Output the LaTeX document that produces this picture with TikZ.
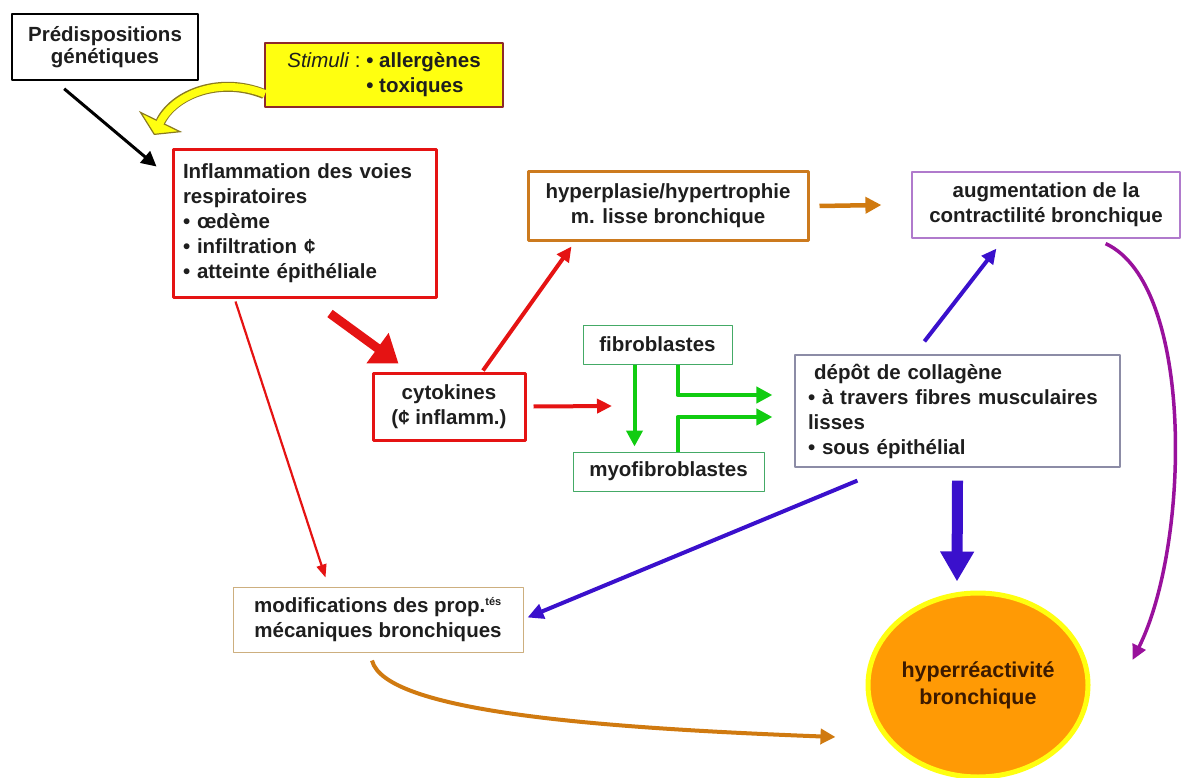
\documentclass[tikz,border=0pt]{standalone}
\usepackage{fontspec}
\setmainfont{Liberation Sans}
\usetikzlibrary{arrows.meta,shapes.geometric}
\definecolor{txt}{HTML}{1E1E1E}
\definecolor{rouge}{HTML}{E51313}
\definecolor{orangebox}{HTML}{CC7A1E}
\definecolor{orangearr}{HTML}{D07A10}
\definecolor{violetbox}{HTML}{B07ACC}
\definecolor{vert}{HTML}{11CC11}
\definecolor{vertbox}{HTML}{44AA66}
\definecolor{grisbox}{HTML}{8C8CA6}
\definecolor{beigebox}{HTML}{CDAF7F}
\definecolor{bleu}{HTML}{3A10CC}
\definecolor{pourpre}{HTML}{99119C}
\definecolor{jaune}{HTML}{FFFF10}
\definecolor{olive}{HTML}{8A7A20}
\definecolor{stimbord}{HTML}{8E2A2A}
\definecolor{orangeell}{HTML}{FF9A05}
\definecolor{brun}{HTML}{3C1A00}

\begin{document}
\begin{tikzpicture}[x=1pt, y=-1pt, line join=round,
  font=\fontsize{20.5}{25}\selectfont\bfseries,
  box/.style={draw, inner sep=0pt, text=txt, align=center}]
\useasboundingbox (0,0) rectangle (1196,778);

% boites
\node[box, black, text=txt, line width=1.6pt, minimum width=186, minimum height=66,
  font=\fontsize{20.5}{22}\selectfont\bfseries] (predisp) at (105,47) {Prédispositions\\génétiques};
\node[box, draw=stimbord, fill=jaune, line width=1.8pt, minimum width=238, minimum height=64] (stim) at (384,75)
  {\begin{tabular}{@{}r@{}l@{}}\mdseries\textit{Stimuli} :~ & • allergènes\\ & • toxiques\end{tabular}};
\node[box, draw=rouge, line width=3pt, inner xsep=10pt, text width=243pt, minimum height=147, align=left] (inflam) at (304.5,223.5)
  {Inflammation des voies\\respiratoires\\• œdème\\• infiltration ¢\\• atteinte épithéliale};
\node[box, draw=orangebox, line width=3pt, minimum width=280, minimum height=68] (hyper) at (668,206)
  {hyperplasie/hypertrophie\\m. lisse bronchique};
\node[box, draw=violetbox, line width=1.2pt, minimum width=268, minimum height=66] (augm) at (1046,205)
  {augmentation de la\\contractilité bronchique};
\node[box, draw=rouge, line width=3pt, minimum width=152, minimum height=67] (cyto) at (449,406.5)
  {cytokines\\(¢ inflamm.)};
\node[box, draw=vertbox, line width=1pt, minimum width=149, minimum height=39] (fibro) at (657.5,344.5) {fibroblastes};
\node[box, draw=vertbox, line width=1pt, minimum width=191, minimum height=39] (myofib) at (668.5,471.5) {myofibroblastes};
\node[box, draw=grisbox, line width=1.2pt, inner xsep=13pt, text width=299pt, minimum height=112, align=left] (depot) at (957.5,411)
  {\hspace{0.3em}dépôt de collagène\\• à travers fibres musculaires\\lisses\\• sous épithélial};
\node[box, draw=beigebox, line width=1pt, minimum width=290, minimum height=65] (modif) at (378,619.5)
  {modifications des prop.\textsuperscript{\fontsize{11}{12}\selectfont tés}\\mécaniques bronchiques};
\node[ellipse, draw=jaune, fill=orangeell, line width=5pt, minimum width=220, minimum height=184, inner sep=0pt,
  text=brun, align=center, font=\fontsize{21.5}{27}\selectfont\bfseries] (hyperreact) at (978,685)
  {hyperréactivité\\bronchique};

\coordinate (ytip) at (154,135);
\coordinate (cytoend) at (612,406);

% fleches
\draw[black, line width=3pt, -{Triangle[length=15pt,width=15pt]}]
  ([shift={(53,8)}]predisp.south west) -- ([shift={(-15,18)}]inflam.north west);
\draw[olive, line width=10pt, -{Triangle[length=15pt,width=48pt,fill=jaune,line width=1.2pt]}]
  ([shift={(0,19)}]stim.west) .. controls (220,76) and (174,94) .. (ytip);
\draw[jaune, line width=7.6pt, shorten >=13pt]
  ([shift={(1,19)}]stim.west) .. controls (220,76) and (174,94) .. (ytip);
\draw[rouge, line width=9pt, -{Triangle[length=26pt,width=36pt]}]
  ([shift={(25.5,15)}]inflam.south) -- ([shift={(27,-8)}]cyto.north west);
\draw[rouge, line width=4pt, -{Triangle[length=15pt,width=14pt]}]
  ([shift={(34,-1)}]cyto.north) -- ([shift={(45,5)}]hyper.south west);
\draw[rouge, line width=4pt, -{Triangle[length=15pt,width=14pt]}]
  ([shift={(7,0)}]cyto.east) -- (cytoend);
\draw[rouge, line width=2.2pt, -{Triangle[length=13pt,width=10pt]}]
  ([shift={(64,3)}]inflam.south west) -- ([shift={(93,-9)}]modif.north west);
\draw[orangearr, line width=4.5pt, -{Triangle[length=16pt,width=16pt]}]
  ([shift={(10,0)}]hyper.east) -- ([shift={(-30,0)}]augm.west);
\draw[vert, line width=4pt, -{Triangle[length=16pt,width=16pt]}]
  ([shift={(52,0)}]fibro.south west) -- ([shift={(62,-5)}]myofib.north west);
\draw[vert, line width=4pt, -{Triangle[length=16pt,width=16pt]}]
  ([shift={(95,0)}]fibro.south west) |- ([shift={(-22,-16)}]depot.west);
\draw[vert, line width=4pt, -{Triangle[length=16pt,width=16pt]}]
  ([shift={(105,0)}]myofib.north west) |- ([shift={(-22,6)}]depot.west);
\draw[bleu, line width=4pt, -{Triangle[length=15pt,width=14pt]}]
  ([shift={(130,-13)}]depot.north west) -- ([shift={(85,10)}]augm.south west);
\draw[bleu, line width=4pt, -{Triangle[length=16pt,width=15pt]}]
  ([shift={(63,13)}]depot.south west) -- ([shift={(4,-2)}]modif.east);
\draw[bleu, line width=11pt, -{Triangle[length=30pt,width=32pt]}]
  ([shift={(0,13)}]depot.south) -- ([shift={(-21,-9)}]hyperreact.north);
\draw[pourpre, line width=3.5pt, -{Triangle[length=15pt,width=14pt]}]
  ([shift={(-75,5)}]augm.south east) .. controls (1195,285) and (1190,545) .. ([shift={(42,-25)}]hyperreact.east);
\draw[orangearr, line width=4pt, -{Triangle[length=15pt,width=15pt]}]
  ([shift={(-6,8)}]modif.south) .. controls (385,712) and (600,728) .. ([shift={(-30,52)}]hyperreact.west);
\end{tikzpicture}
\end{document}
